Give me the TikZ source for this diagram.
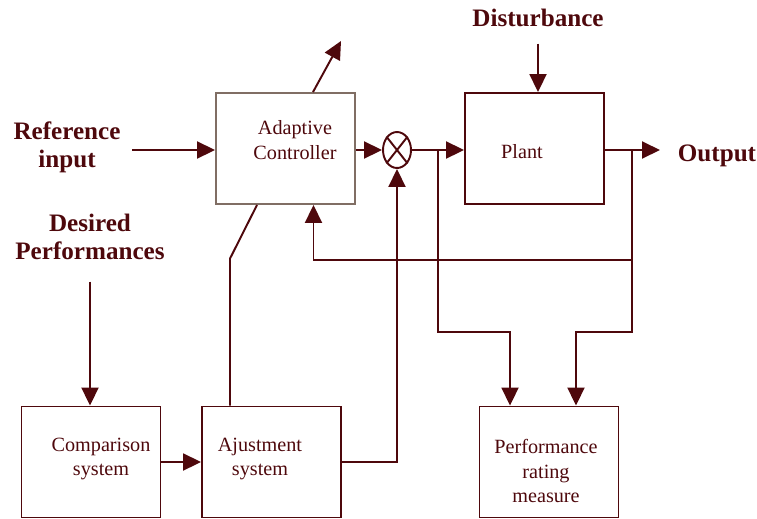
\documentclass[tikz,border=0pt]{standalone}
\usepackage{fontspec}
\setmainfont{Liberation Serif}
\usetikzlibrary{arrows.meta,shapes.geometric}
\definecolor{maroon}{RGB}{78,8,12}
\definecolor{greybrown}{RGB}{128,110,100}
\tikzstyle{lines}=[%
	x = 0.02cm,
	y = -0.02cm,
	line width = 1.1pt,
	draw = maroon,
	text = maroon
]
\tikzstyle{block}=[%
	draw = maroon,
	line width = 1.1pt,
	minimum width = 2.78cm,
	minimum height = 2.22cm
]
\tikzstyle{boxtext}=[%
	align = center,
	font = \fontsize{11.5}{14}\selectfont
]
\tikzstyle{bigtext}=[%
	align = center,
	font = \fontsize{14.3}{16}\selectfont\bfseries
]
\tikzstyle{arrow}=[%
	-{Triangle[length=0.36cm, width=0.34cm]}
]

\begin{document}
\begin{tikzpicture}[lines]
	\useasboundingbox (0,0) rectangle (757,518);

	% Blocks
	\node[block, draw=greybrown] (ctrl) at (285.5,148.5) {};
	\node[block] (plant) at (534.5,148.5) {};
	\node[block] (comp) at (91,462) {};
	\node[block] (adj) at (271.5,462) {};
	\node[block] (perf) at (549,462) {};
	\node[draw, ellipse, line width=1.1pt, minimum width=0.56cm, minimum height=0.72cm] (sum) at (397,150) {};
	\draw (sum.north west) -- (sum.south east);
	\draw (sum.north east) -- (sum.south west);

	% Texts
	\node[boxtext] (ctrltext) at (295,140) {Adaptive\\Controller};
	\node[boxtext] (planttext) at (522,152) {Plant};
	\node[boxtext] (comptext) at (101,459) {Comparison\\system};
	\node[boxtext] (adjtext) at (260,459) {Ajustment\\system};
	\node[boxtext] (perftext) at (546,471) {Performance\\rating\\measure};
	\node[bigtext] (refin) at (67,147) {Reference\\input};
	\node[bigtext] (desired) at (90,237) {Desired\\Performances};
	\node[bigtext] (dist) at (538,18) {Disturbance};
	\node[bigtext] (output) at (717,156) {Output};

	% Junctions
	\coordinate (j1) at (438,150);
	\coordinate (j2) at (632,150);
	\coordinate (j3) at (632,260);
	\coordinate (out) at (660,150);
	\coordinate (adapt) at (341,41);

	% Forward path
	\draw[arrow] (132,150) -- (ctrl.west |- 0,150);
	\draw[arrow] (ctrl.east |- sum) -- (sum.west);
	\draw[arrow] (sum.east) -- (plant.west |- sum);
	\draw[arrow] (plant.east |- sum) -- (out);
	\draw[arrow] ([yshift=-0.2cm]dist.south) -- (dist.south |- plant.north);
	\draw[arrow] ([xshift=0.55cm]ctrl.north) -- (adapt);

	% Feedback
	\draw (j2) -- (j3);
	\draw[arrow] (j3) -| ([xshift=0.56cm]ctrl.south);
	\draw[arrow] (j1) -- (j1 |- 0,332) -| ([xshift=-0.78cm]perf.north);
	\draw[arrow] (j3) -- (632,332) -| ([xshift=0.54cm]perf.north);

	% Adaptation loop
	\draw[arrow] ([yshift=-0.3cm]desired.south) -- (desired.south |- comp.north);
	\draw[arrow] (comp.east) -- (adj.west);
	\draw[arrow] (adj.east) -| (sum.south);
	\draw ([xshift=-0.83cm]adj.north) -- ++(0,-147) -- ([xshift=-0.57cm]ctrl.south);

\end{tikzpicture}
\end{document}
